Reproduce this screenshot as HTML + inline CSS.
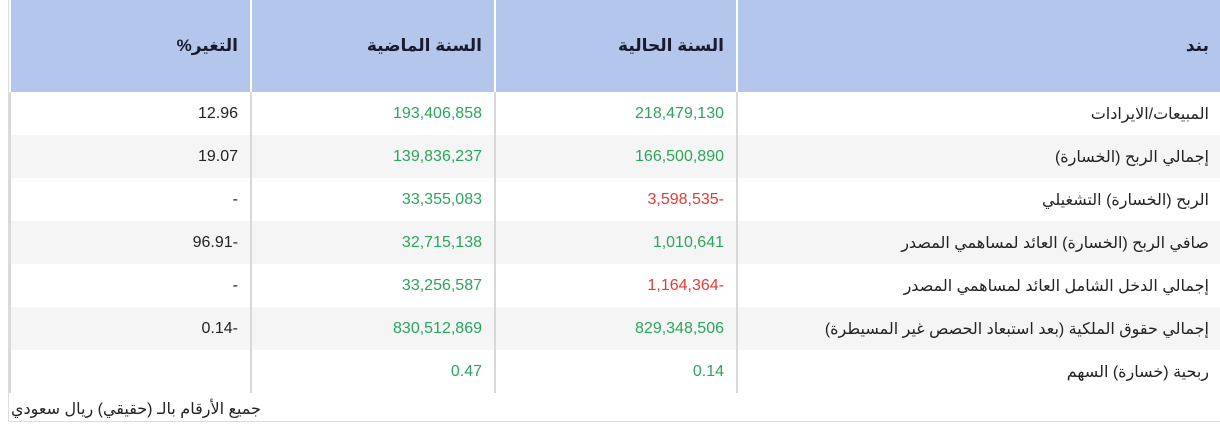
<!DOCTYPE html>
<html><head><meta charset="utf-8"><style>
body{margin:0;width:1220px;height:433px;background:#fff;font-family:"Liberation Sans","DejaVu Sans",sans-serif;overflow:hidden}
.wrap{position:absolute;left:8px;top:0;width:1212px;height:421px;border-left:1px solid #ddd;border-bottom:1px solid #ddd}
table{border-collapse:collapse;width:1211px;direction:rtl;table-layout:fixed}
td,th{text-align:right;padding:0 12px;font-size:16px;color:#222;border-left:2px solid #d8d8d8}
th{background:#b4c6ec;height:92px;font-weight:bold;font-size:17px;color:#1a1a2e;border-left:2px solid #fff}
td{height:43px}
tr:nth-child(odd) td{background:#f5f5f5}
.g{color:#2aa55c}.r{color:#e53935}
.n{direction:ltr;unicode-bidi:isolate;display:inline-block}
.foot{position:absolute;left:2px;top:399px;font-size:16px;color:#222;direction:rtl}
</style></head><body>
<div class="wrap">
<table>
<colgroup><col style="width:484px"><col style="width:242px"><col style="width:244px"><col style="width:241px"></colgroup>
<tr><th>بند</th><th>السنة الحالية</th><th>السنة الماضية</th><th>التغير%</th></tr>
<tr><td>المبيعات/الايرادات</td><td class="g">218,479,130</td><td class="g">193,406,858</td><td>12.96</td></tr>
<tr><td>إجمالي الربح (الخسارة)</td><td class="g">166,500,890</td><td class="g">139,836,237</td><td>19.07</td></tr>
<tr><td>الربح (الخسارة) التشغيلي</td><td class="r"><span class="n">3,598,535-</span></td><td class="g">33,355,083</td><td>-</td></tr>
<tr><td>صافي الربح (الخسارة) العائد لمساهمي المصدر</td><td class="g">1,010,641</td><td class="g">32,715,138</td><td><span class="n">96.91-</span></td></tr>
<tr><td>إجمالي الدخل الشامل العائد لمساهمي المصدر</td><td class="r"><span class="n">1,164,364-</span></td><td class="g">33,256,587</td><td>-</td></tr>
<tr><td>إجمالي حقوق الملكية (بعد استبعاد الحصص غير المسيطرة)</td><td class="g">829,348,506</td><td class="g">830,512,869</td><td><span class="n">0.14-</span></td></tr>
<tr><td>ربحية (خسارة) السهم</td><td class="g">0.14</td><td class="g">0.47</td><td></td></tr>
</table>
<div class="foot">جميع الأرقام بالـ (حقيقي) ريال سعودي</div>
</div>
</body></html>
